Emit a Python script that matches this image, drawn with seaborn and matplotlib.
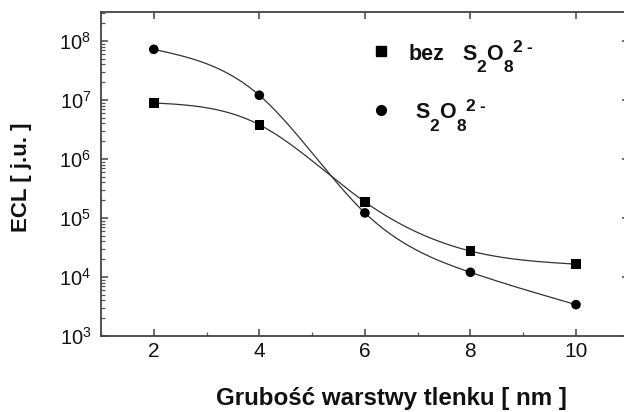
import numpy as np
import pandas as pd
import matplotlib
matplotlib.use("Agg")
import matplotlib.pyplot as plt
import seaborn as sns
from matplotlib.ticker import LogLocator, MultipleLocator, FixedLocator

# Data: oxide layer thickness vs. ECL intensity
thickness = [2, 4, 6, 8, 10]
ecl_bez = [8.9e6, 3.8e6, 1.87e5, 2.75e4, 1.65e4]      # without S2O8(2-)
ecl_s2o8 = [7.2e7, 1.2e7, 1.22e5, 1.2e4, 3.4e3]       # with S2O8(2-)
x_ticks = [2, 4, 6, 8, 10]

W, H = 624, 412


def natural_spline(x, y, n=300):
    """Natural cubic spline through (x, y), evaluated on a dense grid."""
    x = np.asarray(x, float)
    y = np.asarray(y, float)
    k = len(x)
    h = np.diff(x)
    A = np.zeros((k, k))
    r = np.zeros(k)
    A[0, 0] = A[-1, -1] = 1.0
    for i in range(1, k - 1):
        A[i, i - 1] = h[i - 1]
        A[i, i] = 2 * (h[i - 1] + h[i])
        A[i, i + 1] = h[i]
        r[i] = 3 * ((y[i + 1] - y[i]) / h[i] - (y[i] - y[i - 1]) / h[i - 1])
    c = np.linalg.solve(A, r)
    b = (np.diff(y) / h) - h * (2 * c[:-1] + c[1:]) / 3
    d = np.diff(c) / (3 * h)
    xs = np.linspace(x[0], x[-1], n)
    idx = np.clip(np.searchsorted(x, xs, side="right") - 1, 0, k - 2)
    t = xs - x[idx]
    ys = y[idx] + b[idx] * t + c[idx] * t ** 2 + d[idx] * t ** 3
    return xs, ys


sns.set_theme(style="ticks")
plt.rcParams["font.family"] = ["Liberation Sans", "DejaVu Sans"]
plt.rcParams["mathtext.fontset"] = "custom"
plt.rcParams["mathtext.rm"] = "Liberation Sans"
plt.rcParams["mathtext.it"] = "Liberation Sans:italic"
plt.rcParams["mathtext.bf"] = "Liberation Sans:bold"

fig = plt.figure(figsize=(W / 100, H / 100), dpi=100)
ax = fig.add_axes([101 / W, 76 / H, 527.75 / W, 324 / H])

points = pd.DataFrame({
    "x": thickness * 2,
    "y": ecl_bez + ecl_s2o8,
    "series": ["bez"] * 5 + ["s2o8"] * 5,
})

# smooth fitted curves (spline in log space)
curves = []
for name, vals in (("bez", ecl_bez), ("s2o8", ecl_s2o8)):
    xs, ly = natural_spline(thickness, np.log10(vals))
    curves.append(pd.DataFrame({"x": xs, "y": 10 ** ly, "series": name}))
curves = pd.concat(curves)

sns.lineplot(data=curves, x="x", y="y", units="series", estimator=None,
             sort=False, color="#333333", lw=0.9, ax=ax, legend=False)
sns.scatterplot(data=points, x="x", y="y", style="series",
                markers={"bez": "s", "s2o8": "o"}, color="black",
                s=48, edgecolor="black", linewidth=0, ax=ax, legend=False,
                zorder=3)

ax.set_yscale("log")
ax.set_xlim(1, 11)
ax.set_ylim(1e3, 10 ** 8.49)
ax.xaxis.set_major_locator(FixedLocator(x_ticks))
ax.xaxis.set_minor_locator(MultipleLocator(1))
ax.yaxis.set_major_locator(LogLocator(base=10, numticks=20))
ax.yaxis.set_minor_locator(LogLocator(base=10, subs=np.arange(2, 10), numticks=20))

for s in ax.spines.values():
    s.set_color("#444444")
    s.set_linewidth(1.3)

ax.tick_params(which="major", direction="in", length=5, width=1.1,
               color="#444444", top=True, right=True,
               labelcolor="#111111", pad=5)
ax.tick_params(axis="x", which="major", labelsize=15, pad=4)
ax.tick_params(axis="y", which="major", labelsize=14.5, pad=7)
ax.tick_params(which="minor", direction="in", length=3, width=0.9,
               color="#555555", top=False, right=False)

ax.set_xlabel("Grubość warstwy tlenku [ nm ]", fontsize=17.4,
              fontweight="bold", color="#111111")
ax.set_ylabel("ECL [ j.u. ]", fontsize=16, fontweight="bold",
              color="#111111")
ax.xaxis.label.set_va("center")
ax.yaxis.label.set_va("center")
ax.xaxis.set_label_coords(0.551, -0.194)
ax.yaxis.set_label_coords(-0.150, 0.491)


def px_text(x, y, s, size, **kw):
    """Place text with its left baseline at pixel (x, y) from the top-left."""
    fig.text(x / W, 1 - y / H, s, fontsize=size, fontweight="bold",
             color="#111111", ha="left", va="baseline", **kw)


def formula(x, y):
    """Write S2O8(2-) with its sub/superscripts, starting at pixel (x, y)."""
    px_text(x, y, "S", 15.5)
    px_text(x + 14.5, y + 12.5, "2", 12.5)
    px_text(x + 24, y, "O", 15.5)
    px_text(x + 42, y + 12.5, "8", 12.5)
    px_text(x + 50, y - 7.5, "2", 12.5)
    px_text(x + 64, y - 7.5, "-", 12.5)


# legend keys and labels
ax.plot([0.5306], [0.8796], marker="s", ms=6.6, color="black",
        transform=ax.transAxes, clip_on=False)
ax.plot([0.5306], [0.6975], marker="o", ms=7, color="black",
        transform=ax.transAxes, clip_on=False)
px_text(409, 59.5, "bez", 15.5)
formula(462, 59.5)
formula(415, 118.5)

fig.savefig("out.png", dpi=100, facecolor="white")
